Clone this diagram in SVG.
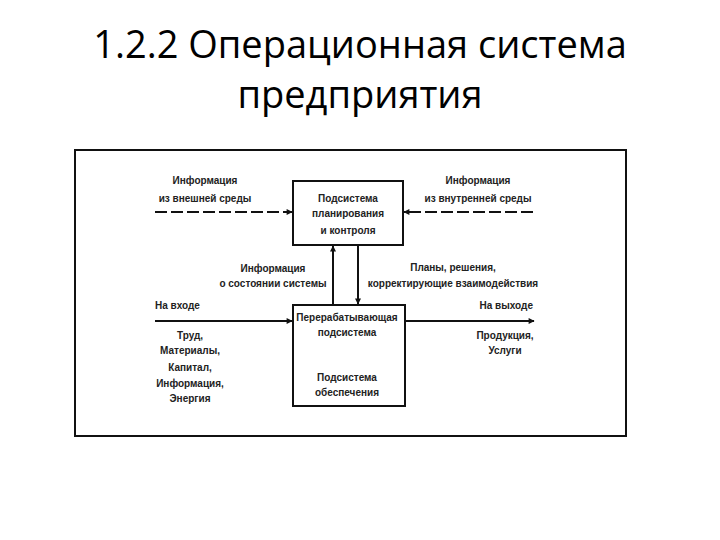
<svg xmlns="http://www.w3.org/2000/svg" width="720" height="540" viewBox="0 0 720 540">
<defs>
<marker id="ah" viewBox="0 0 10 10" refX="9" refY="5" markerWidth="7" markerHeight="6" markerUnits="userSpaceOnUse" orient="auto"><path d="M0,0 L10,5 L0,10 z" fill="#111"/></marker>
<style>
.t{font-family:"Liberation Sans",Arial,sans-serif;font-size:10px;font-weight:bold;fill:#222;text-anchor:middle}
.title{font-family:"Open Sans","Liberation Sans",sans-serif;font-size:38px;fill:#000;text-anchor:middle}
.box{fill:#fff;stroke:#111;stroke-width:2}
.c{stroke:#111;stroke-width:2;fill:none;marker-end:url(#ah)}
.d{stroke-dasharray:12,4}
</style>
</defs>
<rect width="720" height="540" fill="#fff"/>
<text class="title" x="360" y="58">1.2.2 Операционная система</text>
<text class="title" x="360" y="108">предприятия</text>
<rect x="75" y="150" width="551" height="286" fill="none" stroke="#111" stroke-width="2"/>
<g id="connectors">
<line class="c d" x1="155" y1="212" x2="292" y2="212"/>
<line class="c d" x1="533" y1="212" x2="404" y2="212"/>
<line class="c" x1="333" y1="305" x2="333" y2="246"/>
<line class="c" x1="358" y1="245" x2="358" y2="304"/>
<line class="c" x1="155" y1="321" x2="292" y2="321"/>
<line class="c" x1="405" y1="321" x2="534" y2="321"/>
</g>
<g id="planning">
<rect class="box" x="293" y="181" width="110" height="64"/>
<text class="t" x="348" y="202">Подсистема</text>
<text class="t" x="348" y="217">планирования</text>
<text class="t" x="348" y="234">и контроля</text>
</g>
<g id="processing">
<rect class="box" x="293" y="305" width="112" height="101"/>
<text class="t" x="347" y="321">Перерабатывающая</text>
<text class="t" x="347" y="336">подсистема</text>
<text class="t" x="347" y="381">Подсистема</text>
<text class="t" x="347" y="396">обеспечения</text>
</g>
<g id="ext-info">
<text class="t" x="205" y="184">Информация</text>
<text class="t" x="205" y="202">из внешней среды</text>
</g>
<g id="int-info">
<text class="t" x="478" y="184">Информация</text>
<text class="t" x="478" y="202">из внутренней среды</text>
</g>
<g id="state-info">
<text class="t" x="273" y="272">Информация</text>
<text class="t" x="273" y="287">о состоянии системы</text>
</g>
<g id="plans">
<text class="t" x="453" y="271">Планы, решения,</text>
<text class="t" x="453" y="287">корректирующие взаимодействия</text>
</g>
<g id="input">
<text class="t" x="155" y="309" style="text-anchor:start">На входе</text>
<text class="t" x="190" y="339">Труд,</text>
<text class="t" x="190" y="354">Материалы,</text>
<text class="t" x="190" y="371">Капитал,</text>
<text class="t" x="190" y="387">Информация,</text>
<text class="t" x="190" y="402">Энергия</text>
</g>
<g id="output">
<text class="t" x="533" y="309" style="text-anchor:end">На выходе</text>
<text class="t" x="505" y="339">Продукция,</text>
<text class="t" x="505" y="354">Услуги</text>
</g>
</svg>
